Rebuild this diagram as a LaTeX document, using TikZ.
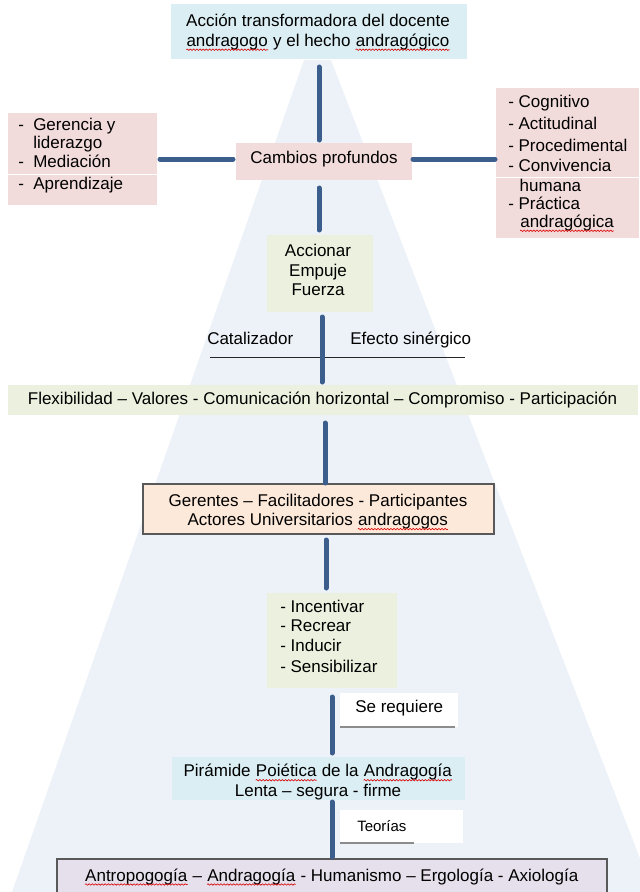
\documentclass[tikz,border=0pt]{standalone}
\usepackage{fontspec}
\setmainfont{Liberation Sans}
\usetikzlibrary{decorations.pathmorphing}
\newcommand\sqw[1]{\tikz[baseline=(sqwnode.base)]{\node[inner sep=0pt] (sqwnode) {#1}; \draw[red!85!black, line width=0.45pt, decorate, decoration={snake, amplitude=0.55pt, segment length=2.4pt}] ([yshift=-2.6pt]sqwnode.base west) -- ([yshift=-2.6pt]sqwnode.base east);}}
\definecolor{cbg}{HTML}{EDF2F8}
\definecolor{cblue}{HTML}{DAEEF3}
\definecolor{cpink}{HTML}{F2DCDB}
\definecolor{cgreen}{HTML}{EBF1DE}
\definecolor{cpeach}{HTML}{FDE9D9}
\definecolor{clav}{HTML}{E6E0EC}
\definecolor{cline}{RGB}{60,94,140}
\definecolor{cborder}{HTML}{595959}
\begin{document}
\begin{tikzpicture}[x=0.75pt,y=-0.75pt,
  every node/.style={font=\fontsize{12.75}{14.6}\selectfont, inner sep=0pt},
  bx/.style 2 args={minimum width=#1*0.75pt, minimum height=#2*0.75pt},
  item/.style={anchor=west, text height=9.2pt, text depth=2.7pt},
  conn/.style={draw=cline, line width=3.75pt, line cap=round},
  thinline/.style={draw=black!85, line width=0.75pt},
  greyline/.style={draw=black!45, line width=0.9pt}
]
\useasboundingbox (0,0) rectangle (639,892);
% background pyramid
\fill[cbg] (304,60) -- (331,60) -- (653,892) -- (12,892) -- cycle;

% boxes
\node[bx={296}{55}, fill=cblue] (top) at (319,31.5) {};
\node[align=center] (toptext) at (318,32.5) {Acción transformadora del docente\\\sqw{andragogo} y el hecho \sqw{andragógico}};

\node[bx={149}{92}, fill=cpink] (lbox) at (82.5,159) {};
\draw[white, line width=0.75pt] (lbox.west |- 0,174) -- (lbox.east |- 0,174);
\node[item] (l1) at (18,126) {-\hspace{7pt}Gerencia y};
\node[item] (l2) at (18,144) {\hspace*{11.3pt}liderazgo};
\node[item] (l3) at (18,163) {-\hspace{7pt}Mediación};
\node[item] (l4) at (18,185) {-\hspace{7pt}Aprendizaje};

\node[bx={176}{37}, fill=cpink] (camb) at (324,161.5) {};
\node (cambtext) at (324,159) {Cambios profundos};

\node[bx={143}{150}, fill=cpink] (rbox) at (567.5,163) {};
\draw[white, line width=0.75pt] (rbox.west |- 0,177) -- (rbox.east |- 0,177);
\node[item] (r1) at (508,103) {- Cognitivo};
\node[item] (r2) at (508,125) {- Actitudinal};
\node[item] (r3) at (508,147) {- Procedimental};
\node[item] (r4) at (508,167) {- Convivencia};
\node[item] (r5) at (508,187) {\hspace*{8.6pt}humana};
\node[item] (r6) at (508,205) {- Práctica};
\node[item] (r7) at (508,223) {\hspace*{8.6pt}\sqw{andragógica}};

\node[bx={106}{77}, fill=cgreen] (acc) at (320,273.5) {};
\node[align=center] (acctext) at (318,270) {Accionar\\Empuje\\Fuerza};

\node[item] (cat) at (207,340) {Catalizador};
\node[item] (efe) at (350,340) {Efecto sinérgico};
\coordinate (hl1) at (210,357);
\coordinate (hl2) at (465,357);
\draw[thinline] (hl1) -- (hl2);

\node[bx={630}{30}, fill=cgreen] (flex) at (323,400) {};
\node (flextext) at (322.5,400) {Flexibilidad – Valores - Comunicación horizontal – Compromiso - Participación};

\node[bx={351}{50}, fill=cpeach, draw=cborder, line width=1.1pt] (ger) at (318.5,509) {};
\node[align=center] (gertext) at (318,512) {Gerentes – Facilitadores - Participantes\\Actores Universitarios \sqw{andragogos}};

\node[bx={130}{95}, fill=cgreen] (inc) at (332,640.5) {};
\node[item] (i1) at (280,608) {- Incentivar};
\node[item] (i2) at (280,627) {- Recrear};
\node[item] (i3) at (280,647) {- Inducir};
\node[item] (i4) at (280,668) {- Sensibilizar};

\node[bx={118}{34}, fill=white] (req) at (399,710) {};
\node[item] (reqtext) at (355,708) {Se requiere};
\coordinate (rq1) at (340,727);
\coordinate (rq2) at (455,727);
\draw[greyline] (rq1) -- (rq2);

\node[bx={293}{43}, fill=cblue] (pir) at (318.5,778.5) {};
\node[align=center] (pirtext) at (318,782) {Pirámide \sqw{Poiética} de la \sqw{Andragogía}\\Lenta – segura - firme};

\node[bx={123}{33}, fill=white] (teo) at (401.5,826.5) {};
\node[item, font=\fontsize{11.25}{13}\selectfont] (teotext) at (357,827) {Teorías};
\coordinate (tq1) at (340,843);
\coordinate (tq2) at (414,843);
\draw[greyline] (tq1) -- (tq2);

\node[bx={550}{50}, fill=clav, draw=cborder, line width=1.1pt] (bot) at (332,884) {};
\node (bottext) at (331.5,877) {\sqw{Antropogogía} – \sqw{Andragogía} - Humanismo – Ergología - Axiología};

% connectors
\coordinate (a1) at (319,67);   \coordinate (a2) at (319,140);
\coordinate (b1) at (319,188);  \coordinate (b2) at (319,230);
\coordinate (c1) at (322,317);  \coordinate (c2) at (322,382);
\coordinate (d1) at (325,423);  \coordinate (d2) at (325,483);
\coordinate (e1) at (326,540);  \coordinate (e2) at (326,588);
\coordinate (f1) at (332,697);  \coordinate (f2) at (332,753);
\coordinate (g1) at (332,802);  \coordinate (g2) at (332,857);
\coordinate (h1) at (160,159);  \coordinate (h2) at (233,159);
\coordinate (k1) at (413,159);  \coordinate (k2) at (495,159);
\draw[conn] (a1) -- (a2);
\draw[conn] (b1) -- (b2);
\draw[conn] (c1) -- (c2);
\draw[conn] (d1) -- (d2);
\draw[conn] (e1) -- (e2);
\draw[conn] (f1) -- (f2);
\draw[conn] (g1) -- (g2);
\draw[conn] (h1) -- (h2);
\draw[conn] (k1) -- (k2);
\end{tikzpicture}
\end{document}
